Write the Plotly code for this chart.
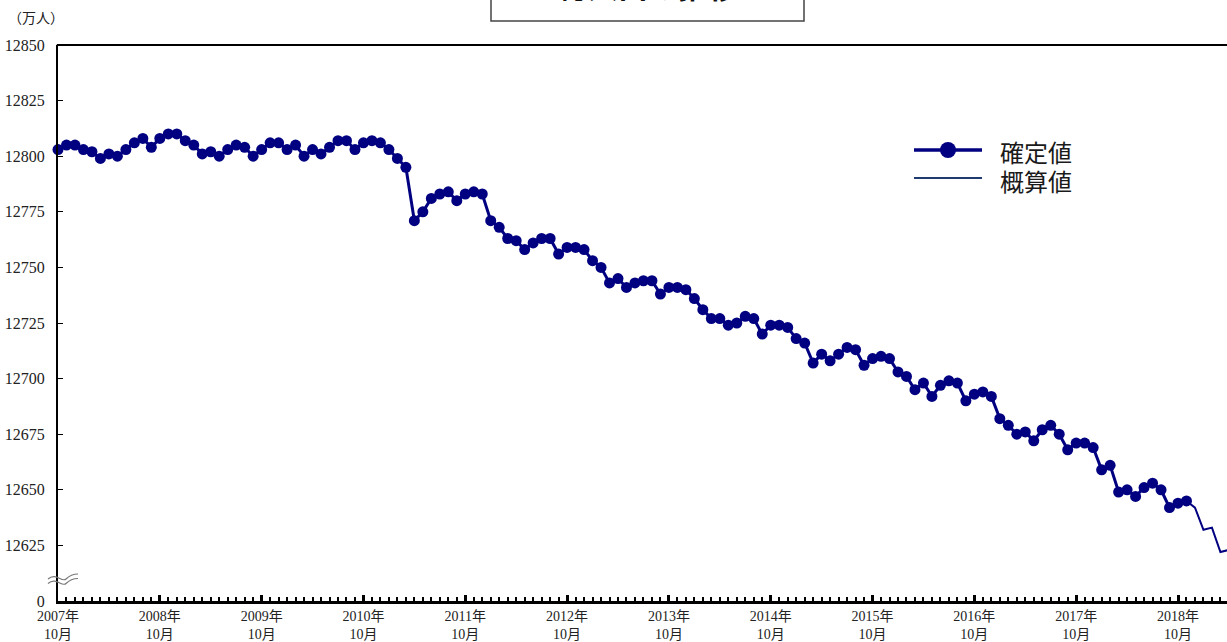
import plotly.graph_objects as go

# ---- data -------------------------------------------------------------
start_year, start_month = 2007, 10
confirmed = [
    12803, 12805, 12805, 12803, 12802, 12799, 12801, 12800, 12803, 12806, 12808, 12804,
    12808, 12810, 12810, 12807, 12805, 12801, 12802, 12800, 12803, 12805, 12804, 12800,
    12803, 12806, 12806, 12803, 12805, 12800, 12803, 12801, 12804, 12807, 12807, 12803,
    12806, 12807, 12806, 12803, 12799, 12795, 12771, 12775, 12781, 12783, 12784, 12780,
    12783, 12784, 12783, 12771, 12768, 12763, 12762, 12758, 12761, 12763, 12763, 12756,
    12759, 12759, 12758, 12753, 12750, 12743, 12745, 12741, 12743, 12744, 12744, 12738,
    12741, 12741, 12740, 12736, 12731, 12727, 12727, 12724, 12725, 12728, 12727, 12720,
    12724, 12724, 12723, 12718, 12716, 12707, 12711, 12708, 12711, 12714, 12713, 12706,
    12709, 12710, 12709, 12703, 12701, 12695, 12698, 12692, 12697, 12699, 12698, 12690,
    12693, 12694, 12692, 12682, 12679, 12675, 12676, 12672, 12677, 12679, 12675, 12668,
    12671, 12671, 12669, 12659, 12661, 12649, 12650, 12647, 12651, 12653, 12650, 12642,
    12644, 12645,
]
estimate = [12645, 12642, 12632, 12633, 12622, 12623]   # from last confirmed month on

series_names = ["確定値", "概算値"]

n_months = len(confirmed) - 1 + len(estimate)
months = []
for i in range(n_months):
    y = start_year + (start_month - 1 + i) // 12
    m = (start_month - 1 + i) % 12 + 1
    months.append((y, m))
month_idx = list(range(n_months))

conf_x = month_idx[:len(confirmed)]
est_x = month_idx[len(confirmed) - 1:]

tick_idx = [i for i, (y, m) in enumerate(months) if m == 10]
tick_text = [f"{months[i][0]}年<br>{months[i][1]}月" for i in tick_idx]

y_tickvals = [12600, 12625, 12650, 12675, 12700, 12725, 12750, 12775, 12800, 12825, 12850]
y_ticktext = ["0"] + [str(v) for v in y_tickvals[1:]]

NAVY = "#000080"
LEG2 = "#1f3a6e"
SERIF = "Liberation Serif, Noto Sans CJK JP, serif"
SANS = "Noto Sans CJK JP, Noto Sans, sans-serif"

fig = go.Figure()
fig.add_trace(go.Scatter(
    x=est_x, y=estimate, mode="lines", name=series_names[1],
    line=dict(color=NAVY, width=2), showlegend=False))
fig.add_trace(go.Scatter(
    x=conf_x, y=confirmed, mode="lines+markers", name=series_names[0],
    line=dict(color=NAVY, width=3), marker=dict(color=NAVY, size=11),
    showlegend=False, cliponaxis=False))

W, H = 1227, 642
L, R, T, B = 58, 0, 45, 41
pw, ph = W - L - R, H - T - B

def px_x(p):
    return (p - L) / pw

def px_y(p):
    return 1 + (T - p) / ph

fig.update_layout(
    width=W, height=H,
    margin=dict(l=L, r=R, t=T, b=B, autoexpand=False),
    paper_bgcolor="white", plot_bgcolor="white",
    showlegend=False,
    xaxis=dict(
        range=[0, (W - L) / ((1178 - 58) / 132)],
        tickmode="array", tickvals=tick_idx, ticktext=tick_text,
        ticks="inside", ticklen=6, tickwidth=3, tickcolor="black",
        showgrid=False, zeroline=False,
        showline=True, linecolor="black", linewidth=3,
        tickfont=dict(family=SERIF, size=14, color="#222"),
        minor=dict(tickmode="linear", tick0=0, dtick=1, ticks="inside",
                   ticklen=4, tickwidth=2, tickcolor="black", showgrid=False),
    ),
    yaxis=dict(
        range=[12600, 12850],
        tickmode="array", tickvals=y_tickvals, ticktext=y_ticktext,
        ticks="inside", ticklen=5, tickwidth=1, tickcolor="black",
        showgrid=False, zeroline=False,
        showline=True, linecolor="black", linewidth=2,
        ticklabelstandoff=8,
        tickfont=dict(family=SERIF, size=16, color="#222"),
    ),
)

# top border of plot area
fig.add_shape(type="line", xref="paper", yref="paper", x0=-0.001, x1=1.0, y0=1, y1=1,
              line=dict(color="black", width=2))

# axis break mark
for dy in (0, 4.5):
    yy = 578 + dy
    path = (f"M {px_x(48)},{px_y(yy+1)} "
            f"C {px_x(56)},{px_y(yy-6)} {px_x(62)},{px_y(yy+5)} {px_x(66)},{px_y(yy+1)} "
            f"C {px_x(70)},{px_y(yy-3)} {px_x(74)},{px_y(yy-4)} {px_x(78)},{px_y(yy-4)}")
    fig.add_shape(type="path", xref="paper", yref="paper", path=path,
                  line=dict(color="#777", width=1.2))

# custom legend
leg_rows = [150, 179]
fig.add_shape(type="line", xref="paper", yref="paper",
              x0=px_x(914), x1=px_x(982), y0=px_y(leg_rows[0]), y1=px_y(leg_rows[0]),
              line=dict(color=NAVY, width=3.5))
fig.add_shape(type="circle", xref="paper", yref="paper",
              x0=px_x(940), x1=px_x(956), y0=px_y(leg_rows[0] + 8), y1=px_y(leg_rows[0] - 8),
              line=dict(color=NAVY, width=0), fillcolor=NAVY)
fig.add_shape(type="line", xref="paper", yref="paper",
              x0=px_x(914), x1=px_x(982), y0=px_y(leg_rows[1] - 1), y1=px_y(leg_rows[1] - 1),
              line=dict(color=LEG2, width=2))
for name, row in zip(series_names, leg_rows):
    fig.add_annotation(text=name, xref="paper", yref="paper", x=px_x(998), y=px_y(row + 1),
                       xanchor="left", yanchor="middle", showarrow=False,
                       font=dict(family=SANS, size=24, color="#1a1a1a"))

# unit label
fig.add_annotation(text="（万人）", xref="paper", yref="paper", x=px_x(6), y=px_y(18),
                   xanchor="left", yanchor="middle", showarrow=False,
                   font=dict(family=SERIF, size=14, color="#222"))

# title box (cut off at the top of the picture, as in the reference)
fig.add_shape(type="rect", xref="paper", yref="paper",
              x0=px_x(491), x1=px_x(804), y0=px_y(21), y1=px_y(-30),
              line=dict(color="#444", width=1.5), fillcolor="rgba(0,0,0,0)")
fig.add_annotation(text="<b>総人口の推移</b>", xref="paper", yref="paper",
                   x=px_x(648), y=px_y(9), xanchor="center", yanchor="bottom",
                   showarrow=False, font=dict(family=SANS, size=30, color="#111"))

fig.write_html("out.html", config={"displayModeBar": False},
               post_script="document.body.style.margin='0';document.body.style.padding='0';")
